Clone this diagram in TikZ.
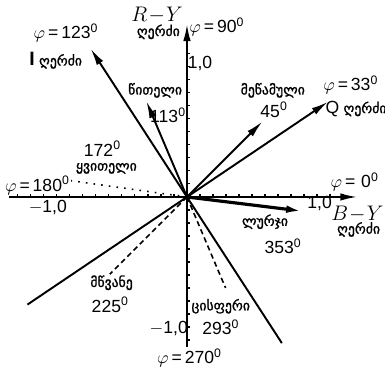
\documentclass[tikz,border=0pt]{standalone}
\usepackage{fontspec}
\setmainfont{Liberation Sans}
\newfontfamily\geofont[Script=Georgian, FakeBold=1.2]{DejaVu Sans}
\usetikzlibrary{arrows.meta, positioning}

\begin{document}
\begin{tikzpicture}[
    x=2.6cm, y=2.6cm,
    >={Latex[length=3.4mm, width=1.5mm]},
    axisline/.style={line width=1.1pt},
    vecline/.style={line width=1.1pt, ->},
    dashline/.style={line width=0.9pt, dash pattern=on 3pt off 2pt},
    dotline/.style={line width=0.9pt, dash pattern=on 0.9pt off 3.5pt},
    numlabel/.style={font=\fontsize{10}{11}\selectfont, inner sep=1pt},
    geolabel/.style={font=\geofont\fontsize{7.8}{8.5}\selectfont, inner sep=1pt},
    axislabel/.style={font=\large, inner sep=1pt}
]
\useasboundingbox (-1.438,-1.377) rectangle (1.523,1.515);

\coordinate (O) at (0,0);
\coordinate (xleft) at (-1.37,0);
\coordinate (xright) at (1.31,0);
\coordinate (ybottom) at (0,-1.15);
\coordinate (ytop) at (0,1.33);

% axes B-Y and R-Y
\draw[axisline] (xleft) -- (O);
\draw[axisline, ->] (O) -- (xright);
\draw[axisline] (ybottom) -- (O);
\draw[axisline, ->] (O) -- (ytop);
\foreach \t in {-1.3,-1.2,...,1.25}
    \draw[line width=0.6pt] (\t,0) -- (\t,0.025);
\foreach \t in {-1.1,-1.0,...,1.25}
    \draw[line width=0.6pt] (0,\t) -- (0.025,\t);

% I and Q axes
\coordinate (iend) at (123:1.36);
\coordinate (ibegin) at (303:1.34);
\coordinate (qend) at (34:1.31);
\coordinate (qbegin) at (214:1.48);
\draw[axisline] (ibegin) -- (O);
\draw[vecline] (O) -- (iend);
\draw[axisline] (qbegin) -- (O);
\draw[vecline] (O) -- (qend);

% colour vectors
\coordinate (red) at (113:0.80);
\coordinate (magenta) at (45:0.82);
\coordinate (blue) at (353:0.90);
\coordinate (yellow) at (172:0.90);
\coordinate (green) at (225:0.84);
\coordinate (cyan) at (293:0.76);
\draw[vecline] (O) -- (red);
\draw[vecline] (O) -- (magenta);
\draw[vecline, line width=1.8pt] (O) -- (blue);
\draw[dotline] (O) -- (yellow);
\draw[dashline] (O) -- (green);
\draw[dashline] (O) -- (cyan);

% labels
\node[axislabel] (rylbl) at (-0.23,1.40) {$R\!-\!Y$};
\node[geolabel] (ryaxis) at (-0.22,1.27) {ღერძი};
\node[numlabel] (phi90) at (0.23,1.31) {$\varphi$\,=\,90\textsuperscript{0}};
\node[numlabel] (yone) at (0.10,1.03) {1,0};
\node[numlabel] (phi123) at (-0.93,1.26) {$\varphi$\,=\,123\textsuperscript{0}};
\node[geolabel] (iaxis) at (-1.01,1.05) {{\normalfont\fontsize{11}{12}\selectfont$\mathbf{I}$} ღერძი};
\node[geolabel] (redlbl) at (-0.245,0.82) {წითელი};
\node[numlabel] (redang) at (-0.145,0.63) {113\textsuperscript{0}};
\node[geolabel] (maglbl) at (0.66,0.82) {მეწამული};
\node[numlabel] (magang) at (0.67,0.67) {45\textsuperscript{0}};
\node[numlabel] (phi33) at (1.26,0.86) {$\varphi$\,=\,33\textsuperscript{0}};
\node[geolabel] (qaxis) at (1.30,0.68) {{\normalfont\fontsize{10}{11}\selectfont Q} ღერძი};
\node[numlabel] (yelang) at (-0.65,0.37) {172\textsuperscript{0}};
\node[geolabel] (yellbl) at (-0.62,0.22) {ყვითელი};
\node[numlabel] (phi180) at (-1.15,0.09) {$\varphi$\,=\,180\textsuperscript{0}};
\node[numlabel] (xmone) at (-1.07,-0.08) {$-$1,0};
\node[numlabel] (phi0) at (1.29,0.115) {$\varphi$\,=\,\,0\textsuperscript{0}};
\node[numlabel] (xone) at (1.02,-0.05) {1,0};
\node[axislabel] (bylbl) at (1.31,-0.13) {$B\!-\!Y$};
\node[geolabel] (byaxis) at (1.32,-0.25) {ღერძი};
\node[geolabel] (bluelbl) at (0.60,-0.19) {ლურჯი};
\node[numlabel] (blueang) at (0.74,-0.38) {353\textsuperscript{0}};
\node[geolabel] (greenlbl) at (-0.58,-0.66) {მწვანე};
\node[numlabel] (greenang) at (-0.59,-0.83) {225\textsuperscript{0}};
\node[geolabel] (cyanlbl) at (0.26,-0.84) {ცისფერი};
\node[numlabel] (cyanang) at (0.26,-1.00) {293\textsuperscript{0}};
\node[numlabel] (ymone) at (-0.14,-1.01) {$-$1,0};
\node[numlabel] (phi270) at (0.02,-1.24) {$\varphi$\,=\,270\textsuperscript{0}};
\end{tikzpicture}
\end{document}
